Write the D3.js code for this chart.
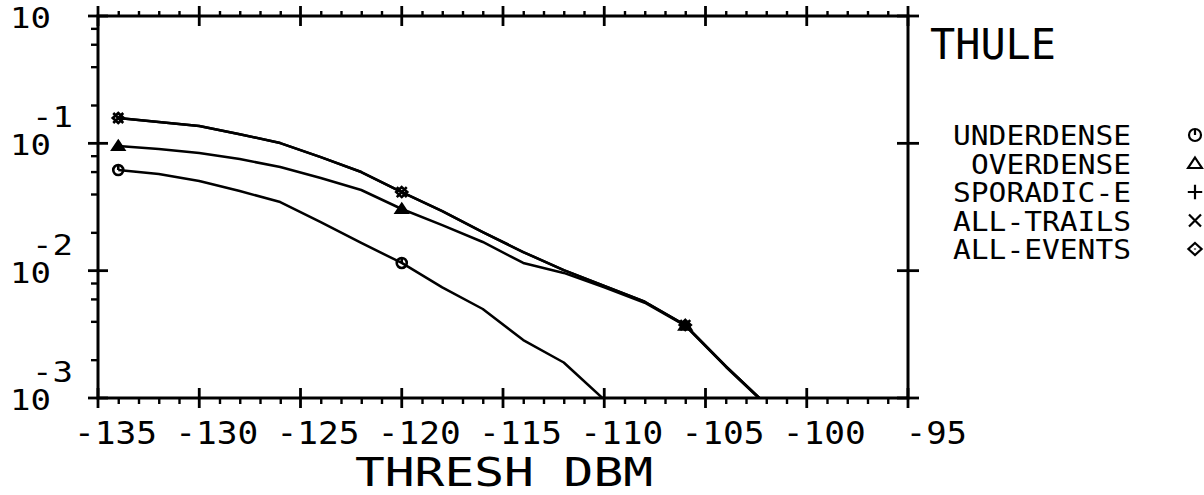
<!DOCTYPE html>
<html>
<head>
<meta charset="utf-8">
<script src="https://cdn.jsdelivr.net/npm/d3@7"></script>
<style>
  html, body { margin: 0; padding: 0; background: #fff; }
  svg { display: block; }
  text { font-family: "DejaVu Sans Mono", "Liberation Mono", monospace; fill: #000; }
</style>
</head>
<body>
<svg id="chart" width="1204" height="495"></svg>
<script>
// ---- data ----
const threshDbm = [-134, -132, -130, -128, -126, -124, -122, -120, -118, -116, -114, -112, -110, -108, -106, -104, -102];
const underdense = [0.0617, 0.0574, 0.0506, 0.0422, 0.0346, 0.0241, 0.0165, 0.0115, 0.0074, 0.0050, 0.00285, 0.0019, 0.00097, null, null, null, null];
const overdense  = [0.0952, 0.0902, 0.0839, 0.0753, 0.0651, 0.0534, 0.0430, 0.0305, 0.0228, 0.0168, 0.0115, 0.0096, 0.0074, 0.0056, 0.0037, 0.00176, 0.00088];
const sporadicE  = [null, null, null, null, null, null, null, null, null, null, null, null, null, null, null, null, null];
const allTrails  = [0.158, 0.147, 0.137, 0.118, 0.1005, 0.078, 0.0595, 0.0414, 0.0294, 0.0201, 0.0140, 0.0101, 0.0076, 0.0057, 0.00374, 0.00178, 0.00089];
const allEvents  = [0.158, 0.147, 0.137, 0.118, 0.1005, 0.078, 0.0595, 0.0414, 0.0294, 0.0201, 0.0140, 0.0101, 0.0076, 0.0057, 0.00374, 0.00178, 0.00089];
const markerEvery = 7;

const xTickValues = [-135, -130, -125, -120, -115, -110, -105, -100, -95];
const xTickLabels = ["-135", "-130", "-125", "-120", "-115", "-110", "-105", "-100", "-95"];
const yTickValues = [1, 0.1, 0.01, 0.001];
const yTickExponents = ["", "-1", "-2", "-3"];
const seriesNames = ["UNDERDENSE", "OVERDENSE", "SPORADIC-E", "ALL-TRAILS", "ALL-EVENTS"];
const seriesSymbols = ["under", "tri", "plus", "times", "diamond"];
const stationName = "THULE";
const xAxisTitle = "THRESH DBM";

// ---- layout ----
const svg = d3.select("#chart");
const L = 98, R = 908, T = 16, B = 398;
const x = d3.scaleLinear().domain([-135, -95]).range([L, R]);
const y = d3.scaleLog().domain([1e-3, 1]).range([B, T]);

// ---- symbol paths ----
function symbolPath(kind, s) {
  switch (kind) {
    case "under": return `M${-s},0 a${s},${s} 0 1,0 ${2*s},0 a${s},${s} 0 1,0 ${-2*s},0 M0,${-s} L0,0`;
    case "tri": { const h = s * 1.0; return `M0,${-h} L${s*1.15},${h*0.75} L${-s*1.15},${h*0.75} Z`; }
    case "plus": return `M${-s*1.2},0 L${s*1.2},0 M0,${-s*1.2} L0,${s*1.2}`;
    case "times": return `M${-s},${-s} L${s},${s} M${-s},${s} L${s},${-s}`;
    case "diamond": return `M0,${-s} L${s*1.1},0 L0,${s} L${-s*1.1},0 Z M0,-0.5 L0,0.5`;
  }
  return "";
}

// ---- clip ----
svg.append("defs").append("clipPath").attr("id", "plotclip")
  .append("rect").attr("x", L).attr("y", T).attr("width", R - L).attr("height", B - T);

// ---- lines ----
const allSeries = [
  {name: "UNDERDENSE", vals: underdense, sym: "under"},
  {name: "OVERDENSE", vals: overdense, sym: "tri"},
  {name: "SPORADIC-E", vals: sporadicE, sym: "plus"},
  {name: "ALL-TRAILS", vals: allTrails, sym: "times"},
  {name: "ALL-EVENTS", vals: allEvents, sym: "diamond"}
];
const line = d3.line()
  .defined(d => d.v != null && d.v > 0)
  .x(d => x(d.x)).y(d => y(d.v));

const gLines = svg.append("g").attr("clip-path", "url(#plotclip)");
allSeries.forEach(s => {
  const pts = threshDbm.map((t, i) => ({x: t, v: s.vals[i]}));
  gLines.append("path").datum(pts).attr("d", line)
    .attr("fill", "none").attr("stroke", "#000").attr("stroke-width", 2.5)
    .attr("stroke-linejoin", "round");
});
allSeries.forEach(s => {
  const pts = threshDbm.map((t, i) => ({x: t, v: s.vals[i], i}))
    .filter(d => d.i % markerEvery === 0 && d.v != null && d.v >= 1e-3);
  gLines.selectAll(null).data(pts).enter().append("path")
    .attr("transform", d => `translate(${x(d.x)},${y(d.v)})`)
    .attr("d", symbolPath(s.sym, 5))
    .attr("fill", s.sym === "tri" ? "#000" : "none")
    .attr("stroke", "#000").attr("stroke-width", 2.6);
});

// ---- axes ----
const axW = 3;
const gAx = svg.append("g");
gAx.append("rect").attr("x", L).attr("y", T).attr("width", R - L).attr("height", B - T)
  .attr("fill", "none").attr("stroke", "#000").attr("stroke-width", axW);

const xMinor = d3.range(-135, -94, 1).filter(v => v % 5 !== 0);
const xAxisBottom = d3.axisBottom(x).tickValues(xMinor).tickSize(6).tickFormat("");
const xAxisTop = d3.axisTop(x).tickValues(xMinor).tickSize(5).tickFormat("");
const gxb = gAx.append("g").attr("transform", `translate(0,${B})`).call(xAxisBottom);
const gxt = gAx.append("g").attr("transform", `translate(0,${T})`).call(xAxisTop);
[gxb, gxt].forEach(g => { g.select(".domain").remove(); g.selectAll("line").attr("stroke", "#000").attr("stroke-width", 2.4); });
gAx.selectAll(null).data(xTickValues).enter().append("line")
  .attr("x1", d => x(d)).attr("x2", d => x(d)).attr("y1", B - 10).attr("y2", B + 10)
  .attr("stroke", "#000").attr("stroke-width", 2.8);
gAx.selectAll(null).data(xTickValues).enter().append("line")
  .attr("x1", d => x(d)).attr("x2", d => x(d)).attr("y1", T - 10).attr("y2", T + 10)
  .attr("stroke", "#000").attr("stroke-width", 2.8);

const yMinor = [];
[0.1, 0.01, 0.001].forEach(dec => [2, 4, 6, 8].forEach(k => yMinor.push(k * dec)));
const yAxisLeft = d3.axisLeft(y).tickValues(yMinor).tickSize(7).tickFormat("");
const gyl = gAx.append("g").attr("transform", `translate(${L},0)`).call(yAxisLeft);
gyl.select(".domain").remove();
gyl.selectAll("line").attr("stroke", "#000").attr("stroke-width", 2.4);
gAx.selectAll(null).data(yTickValues).enter().append("line")
  .attr("x1", L - 10).attr("x2", L + 10).attr("y1", d => y(d)).attr("y2", d => y(d))
  .attr("stroke", "#000").attr("stroke-width", 2.8);
gAx.selectAll(null).data(yTickValues).enter().append("line")
  .attr("x1", R - 11).attr("x2", R + 11).attr("y1", d => y(d)).attr("y2", d => y(d))
  .attr("stroke", "#000").attr("stroke-width", 2.8);

// x tick labels
const charW = 21.75;
svg.selectAll(null).data(xTickValues).enter().append("text")
  .attr("x", d => x(d) + 59).attr("y", 444)
  .attr("text-anchor", "end")
  .attr("font-size", 32)
  .attr("textLength", (d, i) => xTickLabels[i].length * charW - 4)
  .attr("lengthAdjust", "spacingAndGlyphs")
  .text((d, i) => xTickLabels[i]);

// y tick labels
const gy = svg.append("g");
yTickValues.forEach((v, i) => {
  gy.append("text").attr("x", 10).attr("y", y(v) + 12)
    .attr("font-size", 29).attr("textLength", 41).attr("lengthAdjust", "spacingAndGlyphs")
    .text("10");
  if (yTickExponents[i]) {
    gy.append("text").attr("x", 32).attr("y", y(v) - 16)
      .attr("font-size", 28).attr("textLength", 41).attr("lengthAdjust", "spacingAndGlyphs")
      .text(yTickExponents[i]);
  }
});

// axis title
svg.append("text").attr("x", 355).attr("y", 485.5)
  .attr("font-size", 39).attr("textLength", 298).attr("lengthAdjust", "spacingAndGlyphs")
  .text(xAxisTitle);

// station name
svg.append("text").attr("x", 930).attr("y", 59)
  .attr("font-size", 42).attr("textLength", 126).attr("lengthAdjust", "spacingAndGlyphs")
  .text(stationName);

// legend
const legY0 = 145, legDy = 28.5;
seriesNames.forEach((n, i) => {
  svg.append("text").attr("x", 1131).attr("y", legY0 + i * legDy)
    .attr("text-anchor", "end")
    .attr("font-size", 27).attr("textLength", n.length * 18 - 2).attr("lengthAdjust", "spacingAndGlyphs")
    .text(n);
  svg.append("path")
    .attr("transform", `translate(1195,${legY0 + i * legDy - 10})`)
    .attr("d", symbolPath(seriesSymbols[i], 6))
    .attr("fill", "none").attr("stroke", "#000").attr("stroke-width", 2.2);
});
</script>
</body>
</html>
